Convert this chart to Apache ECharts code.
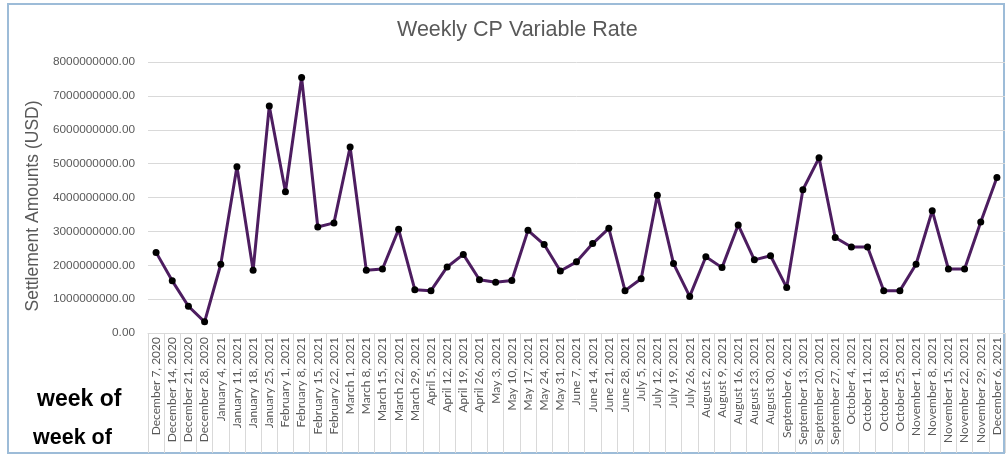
<!DOCTYPE html>
<html>
<head>
<meta charset="utf-8">
<script src="https://cdn.jsdelivr.net/npm/echarts@6/dist/echarts.min.js"></script>
<style>
  html, body { margin: 0; padding: 0; background: #fff; }
  #main { width: 1008px; height: 455px; }
</style>
</head>
<body>
<div id="main"></div>
<script>
// weekly settlement amounts, week of ...
const weeks = [
  'December 7, 2020', 'December 14, 2020', 'December 21, 2020', 'December 28, 2020',
  'January 4, 2021', 'January 11, 2021', 'January 18, 2021', 'January 25, 2021',
  'February 1, 2021', 'February 8, 2021', 'February 15, 2021', 'February 22, 2021',
  'March 1, 2021', 'March 8, 2021', 'March 15, 2021', 'March 22, 2021', 'March 29, 2021',
  'April 5, 2021', 'April 12, 2021', 'April 19, 2021', 'April 26, 2021',
  'May 3, 2021', 'May 10, 2021', 'May 17, 2021', 'May 24, 2021', 'May 31, 2021',
  'June 7, 2021', 'June 14, 2021', 'June 21, 2021', 'June 28, 2021',
  'July 5, 2021', 'July 12, 2021', 'July 19, 2021', 'July 26, 2021',
  'August 2, 2021', 'August 9, 2021', 'August 16, 2021', 'August 23, 2021', 'August 30, 2021',
  'September 6, 2021', 'September 13, 2021', 'September 20, 2021', 'September 27, 2021',
  'October 4, 2021', 'October 11, 2021', 'October 18, 2021', 'October 25, 2021',
  'November 1, 2021', 'November 8, 2021', 'November 15, 2021', 'November 22, 2021', 'November 29, 2021',
  'December 6, 2021'
]
// in millions of USD
const amountsMillions = [
  2380, 1540, 790, 330,
  2030, 4910, 1850, 6700,
  4170, 7540, 3130, 3250,
  5490, 1850, 1890, 3060, 1280,
  1250, 1950, 2320, 1570,
  1500, 1550, 3030, 2610, 1830,
  2100, 2640, 3090, 1250,
  1600, 4070, 2050, 1080,
  2250, 1930, 3190, 2160, 2280,
  1340, 4230, 5170, 2820,
  2540, 2540, 1250, 1250,
  2030, 3610, 1890, 1890, 3280,
  4590
]
const yTicks = { min: 0, max: 8000000000, interval: 1000000000 }

const amounts = amountsMillions.map(v => v * 1000000)

const myEcharts = echarts.init(document.getElementById('main'))
const gray = '#595959'

const option = {
  animation: false,
  title: {
    text: 'Weekly CP Variable Rate',
    left: 392,
    top: 14,
    textStyle: {
      fontFamily: 'Liberation Sans',
      fontSize: 21.5,
      fontWeight: 'normal',
      color: gray
    }
  },
  grid: {
    left: 148,
    right: 3,
    top: 62,
    bottom: 122,
    containLabel: false
  },
  xAxis: {
    type: 'category',
    data: weeks,
    boundaryGap: true,
    axisLine: { lineStyle: { color: '#d9d9d9', width: 1 } },
    axisTick: {
      show: true,
      length: 120,
      lineStyle: { color: '#d9d9d9' }
    },
    axisLabel: {
      interval: 0,
      rotate: 90,
      margin: 4,
      fontFamily: 'Lato',
      fontSize: 12,
      color: gray
    }
  },
  yAxis: {
    type: 'value',
    min: yTicks.min,
    max: yTicks.max,
    interval: yTicks.interval,
    axisLine: { show: false },
    axisTick: { show: false },
    splitLine: { lineStyle: { color: '#d9d9d9', width: 1 } },
    axisLabel: {
      margin: 13,
      fontFamily: 'Liberation Sans',
      fontSize: 11.8,
      color: gray,
      formatter: v => v.toFixed(2)
    }
  },
  graphic: [
    {
      type: 'rect',
      shape: { x: 8, y: 4, width: 996, height: 449 },
      style: { fill: 'none', stroke: '#9dbcd8', lineWidth: 2 },
      z: -1
    },
    {
      type: 'text',
      x: 33,
      y: 206,
      rotation: Math.PI / 2,
      style: {
        text: 'Settlement Amounts (USD)',
        font: '17.5px "Liberation Sans"',
        fill: gray,
        align: 'center',
        verticalAlign: 'middle'
      }
    },
    {
      type: 'text',
      left: 37,
      top: 388,
      style: { text: 'week of', font: 'bold 23px "Liberation Sans"', fill: '#000' }
    },
    {
      type: 'text',
      left: 33,
      top: 427,
      style: { text: 'week of', font: 'bold 21.5px "Liberation Sans"', fill: '#000' }
    }
  ],
  series: [
    {
      name: 'Settlement Amounts',
      type: 'line',
      data: amounts,
      symbol: 'circle',
      symbolSize: 7,
      lineStyle: { color: '#4d1d60', width: 3 },
      itemStyle: { color: '#000' }
    }
  ]
}
myEcharts.setOption(option)
</script>
</body>
</html>
